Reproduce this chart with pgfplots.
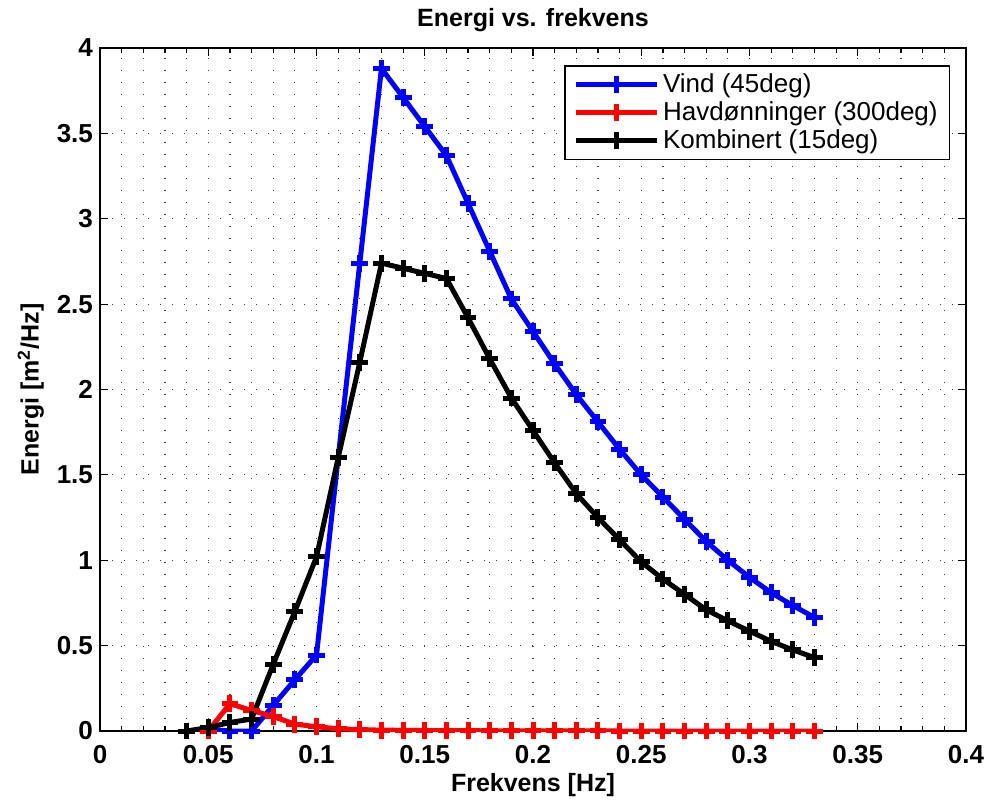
\documentclass[border=0pt]{standalone}
\usepackage{fontspec}
\setmainfont{Liberation Sans}
\usepackage{pgfplots}
\pgfplotsset{compat=1.18}

\begin{document}
\begin{tikzpicture}
  \begin{axis}[
      scale only axis,
      width=433pt,
      height=341.5pt,
      xmin=0, xmax=0.4,
      ymin=0, ymax=4,
      xtick={0,0.05,0.1,0.15,0.2,0.25,0.3,0.35,0.4},
      ytick={0,0.5,1,1.5,2,2.5,3,3.5,4},
      minor x tick num=4,
      /pgf/number format/fixed,
      /pgf/number format/precision=2,
      /pgf/number format/assume math mode=true,
      ticklabel style={font=\fontsize{13}{15}\selectfont\bfseries},
      xticklabel style={yshift=-3.5pt},
      label style={font=\fontsize{12.5}{15}\selectfont\bfseries},
      title style={font=\fontsize{12.5}{15}\selectfont\bfseries,
        at={(axis description cs:0.5,1)}, anchor=base, yshift=4.5pt},
      xlabel style={at={(axis description cs:0.5,-0.079)}, anchor=center},
      ylabel style={at={(axis description cs:-0.08,0.5)}, anchor=center},
      title={Energi vs. frekvens},
      xlabel={Frekvens [Hz]},
      ylabel={Energi [m\textsuperscript{2}/Hz]},
      grid=both,
      major grid style={black!75, line width=0.6pt, dash pattern=on 0.6pt off 5.4pt},
      minor grid style={black!75, line width=0.6pt, dash pattern=on 0.6pt off 5.4pt},
      axis line style={line width=0.75pt},
      tick style={black, line width=0.6pt},
      major tick length=4pt,
      minor tick length=2.5pt,
      tick align=inside,
      legend style={
        at={(0.982,0.975)}, anchor=north east,
        draw=black, line width=0.75pt,
        font=\fontsize{13}{16}\selectfont,
        inner xsep=4pt, inner ysep=2pt,
        row sep=-1pt,
      },
      legend cell align=left,
      legend image code/.code={
        \draw[mark repeat=2, mark phase=2] plot coordinates {(0cm,0cm) (0.71cm,0cm) (1.42cm,0cm)};
      },
      every axis plot/.append style={line width=2.5pt, mark=+, mark size=4.2pt,
        mark options={line width=2.5pt, solid}},
    ]
    \addplot[color={rgb,255:red,0;green,0;blue,255}] coordinates {
      (0.04,0.00) (0.05,0.01) (0.06,0.00) (0.07,0.00) (0.08,0.15)
      (0.09,0.30) (0.10,0.445) (0.11,1.60) (0.12,2.74) (0.13,3.88)
      (0.14,3.71) (0.15,3.54) (0.16,3.37) (0.17,3.09) (0.18,2.81)
      (0.19,2.53) (0.20,2.34) (0.21,2.15) (0.22,1.97) (0.23,1.81)
      (0.24,1.65) (0.25,1.50) (0.26,1.37) (0.27,1.24) (0.28,1.11)
      (0.29,1.00) (0.30,0.90) (0.31,0.81) (0.32,0.735) (0.33,0.665)
    };
    \addplot[color={rgb,255:red,255;green,0;blue,0}] coordinates {
      (0.04,0.00) (0.05,0.00) (0.06,0.16) (0.07,0.12) (0.08,0.085)
      (0.09,0.04) (0.10,0.025) (0.11,0.013) (0.12,0.008) (0.13,0.005)
      (0.14,0.004) (0.15,0.003) (0.16,0.002) (0.17,0.002) (0.18,0.001)
      (0.19,0.001) (0.20,0.001) (0.21,0.001) (0.22,0.001) (0.23,0.001)
      (0.24,0.000) (0.25,0.000) (0.26,0.000) (0.27,0.000) (0.28,0.000)
      (0.29,0.000) (0.30,0.000) (0.31,0.000) (0.32,0.000) (0.33,0.000)
    };
    \addplot[color=black] coordinates {
      (0.04,0.00) (0.05,0.02) (0.06,0.05) (0.07,0.07) (0.08,0.39)
      (0.09,0.70) (0.10,1.02) (0.11,1.60) (0.12,2.16) (0.13,2.74)
      (0.14,2.71) (0.15,2.68) (0.16,2.65) (0.17,2.42) (0.18,2.18)
      (0.19,1.95) (0.20,1.76) (0.21,1.57) (0.22,1.39) (0.23,1.25)
      (0.24,1.12) (0.25,0.99) (0.26,0.89) (0.27,0.80) (0.28,0.71)
      (0.29,0.645) (0.30,0.585) (0.31,0.525) (0.32,0.475) (0.33,0.43)
    };
    \legend{Vind (45deg), Havdønninger (300deg), Kombinert (15deg)}
  \end{axis}
  % fix the page to the reference's margins round the axis
  \pgfresetboundingbox
  \path ([shift={(-50pt,-37pt)}]current axis.south west)
    rectangle ([shift={(10pt,24pt)}]current axis.north east);
\end{tikzpicture}
\end{document}
